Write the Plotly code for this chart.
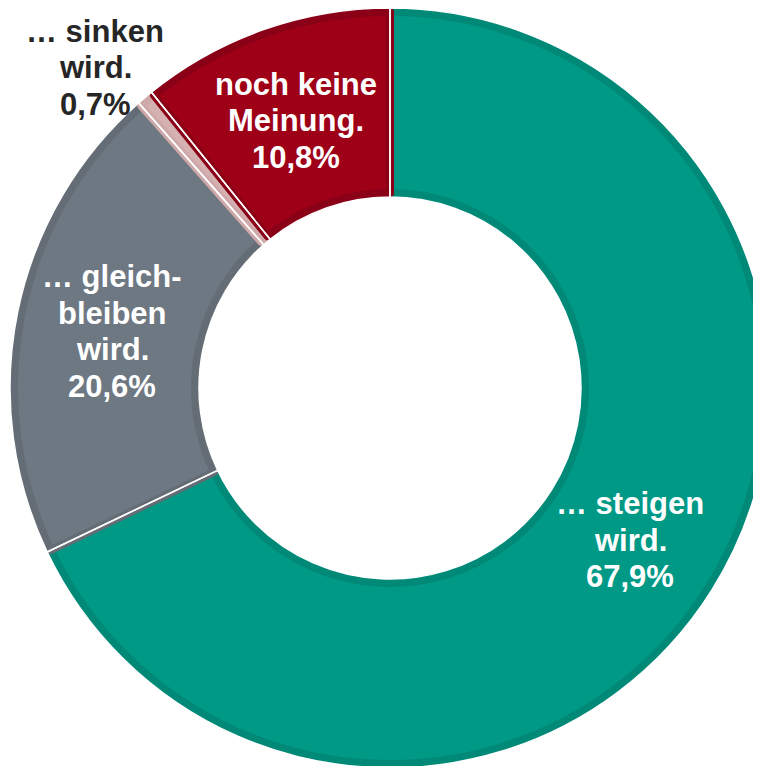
import plotly.graph_objects as go

# Anteil der Befragten, die erwarten, dass ...
labels = ["… steigen wird.", "… gleichbleiben wird.", "… sinken wird.", "noch keine Meinung."]
values = [67.9, 20.6, 0.7, 10.8]
label_lines = [["… steigen", "wird."], ["… gleich-", "bleiben", "wird."], ["… sinken", "wird."], ["noch keine", "Meinung."]]

fill_colors = ["#009985", "#6e7882", "#d5b1b1", "#9e0018"]
edge_colors = ["#008977", "#646c75", "#cfa9a9", "#8a0016"]
text_colors = ["white", "white", "#262626", "white"]

# the page body has an 8px margin, so the figure is laid out 8px up/left
OFF = 8
W, H = 764, 760
FONT = "Arial, Liberation Sans, sans-serif"

# label block centres in window pixels (x, y) and line spacing
label_pos = [(630, 540.3), (112, 331.3), (95, 67.7), (296, 121)]
line_gap = 36.5


def pct(v):
    return f"{v:.1f}".replace(".", ",") + "%"


fig = go.Figure()

# dark base ring (gives the darker inner border of every slice)
fig.add_trace(go.Pie(
    labels=labels, values=values, sort=False, direction="clockwise",
    hole=191 / 380,
    domain=dict(x=[0, 1], y=[0, 1]),
    marker=dict(colors=edge_colors, line=dict(width=0)),
    textinfo="none", showlegend=False, hoverinfo="label+value",
))

# lighter fill, slightly inset
fig.add_trace(go.Pie(
    labels=labels, values=values, sort=False, direction="clockwise",
    hole=195 / 376,
    domain=dict(x=[0, 1], y=[4 / H, 1 - 4 / H]),
    marker=dict(colors=fill_colors, line=dict(color=edge_colors, width=8)),
    textinfo="none", showlegend=False, hoverinfo="skip",
))

# thin white separators between slices
fig.add_trace(go.Pie(
    labels=labels, values=values, sort=False, direction="clockwise",
    hole=191 / 380,
    domain=dict(x=[0, 1], y=[0, 1]),
    marker=dict(colors=["rgba(0,0,0,0)"] * len(values), line=dict(color="white", width=1.5)),
    textinfo="none", showlegend=False, hoverinfo="skip",
))

for lines, v, (cx, cy), col in zip(label_lines, values, label_pos, text_colors):
    rows = lines + [pct(v)]
    n = len(rows)
    for i, row in enumerate(rows):
        py = cy + (i - (n - 1) / 2) * line_gap - OFF
        fig.add_annotation(
            x=(cx - OFF) / W, y=1 - py / H, xref="paper", yref="paper",
            text=row, showarrow=False, xanchor="center", yanchor="middle",
            font=dict(family=FONT, size=31, color=col, weight="bold"),
        )

fig.update_layout(
    width=W, height=H,
    margin=dict(l=0, r=0, t=0, b=0),
    paper_bgcolor="white", plot_bgcolor="white",
    showlegend=False,
)

fig.write_html("out.html")
